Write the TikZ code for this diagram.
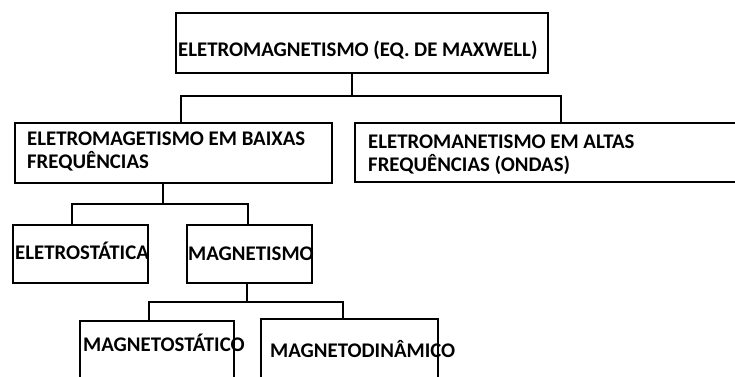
\documentclass[tikz,border=0pt]{standalone}
\usepackage{fontspec}
\setmainfont{Carlito}
\begin{document}
\begin{tikzpicture}[x=1pt,y=-1pt,
  box/.style={draw=black,line width=1.5pt},
  conn/.style={draw=black,line width=1.5pt},
  lbl/.style={anchor=base west,inner sep=0pt,font=\bfseries\fontsize{20.8}{24}\selectfont,text=black}]
\useasboundingbox (0,0) rectangle (735,376);
\clip (0,0) rectangle (735,376);
% boxes
\draw[box] (176,13) rectangle (548,73);
\coordinate (topB) at (352,73);
\draw[box] (15,123) rectangle (332,183);
\draw[box] (355,123) rectangle (745,182);
\draw[box] (13,225) rectangle (148,283);
\draw[box] (187,225) rectangle (312,283);
\draw[box] (80,390) -- (80,321) -- (234,321) -- (234,390);
\draw[box] (261,390) -- (261,319) -- (438,319) -- (438,390);
% connector points
\coordinate (j1) at (352,96);
\coordinate (j1l) at (181,96);
\coordinate (j1r) at (561,96);
\coordinate (lowT) at (181,123);
\coordinate (highT) at (561,123);
\coordinate (lowB) at (163,183);
\coordinate (j2) at (163,204);
\coordinate (j2l) at (72,204);
\coordinate (j2r) at (248,204);
\coordinate (estT) at (72,225);
\coordinate (magT) at (248,225);
\coordinate (magB) at (247,283);
\coordinate (j3) at (247,302);
\coordinate (j3l) at (149,302);
\coordinate (j3r) at (343,302);
\coordinate (mstT) at (149,321);
\coordinate (mdnT) at (343,319);
\draw[conn] (topB) -- (j1);
\draw[conn] (lowT) -- (j1l) -- (j1r) -- (highT);
\draw[conn] (lowB) -- (j2);
\draw[conn] (estT) -- (j2l) -- (j2r) -- (magT);
\draw[conn] (magB) -- (j3);
\draw[conn] (mstT) -- (j3l) -- (j3r) -- (mdnT);
% texts
\node[lbl] (tTop) at (178,56) {ELETROMAGNETISMO (EQ. DE MAXWELL)};
\node[lbl] (tLow1) at (27,145) {ELETROMAGETISMO EM BAIXAS};
\node[lbl] (tLow2) at (27,168) {FREQUÊNCIAS};
\node[lbl] (tHi1) at (368,148) {ELETROMANETISMO EM ALTAS};
\node[lbl] (tHi2) at (368,171) {FREQUÊNCIAS (ONDAS)};
\node[lbl] (tEst) at (15,259) {ELETROSTÁTICA};
\node[lbl] (tMag) at (188,260) {MAGNETISMO};
\node[lbl] (tMst) at (83,351) {MAGNETOSTÁTICO};
\node[lbl] (tMdn) at (270,357) {MAGNETODINÂMICO};
\end{tikzpicture}
\end{document}
